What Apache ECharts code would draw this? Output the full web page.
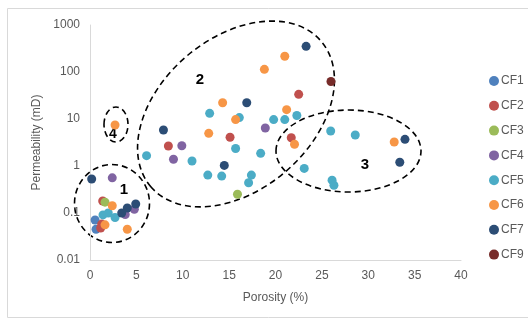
<!DOCTYPE html>
<html>
<head>
<meta charset="utf-8">
<script src="https://cdn.jsdelivr.net/npm/echarts@6/dist/echarts.min.js"></script>
<style>html,body{margin:0;padding:0;background:#fff}#c{width:528px;height:320px}</style>
</head>
<body>
<div id="c"></div>
<script>
// Series names
const seriesNames = ['CF1','CF2','CF3','CF4','CF5','CF6','CF7','CF9'];
// [porosity %, permeability mD]
const cf1 = [[0.55,0.071],[0.65,0.045]];
const cf2 = [[1.37,0.18],[1.26,0.058],[1.15,0.048],[8.45,2.67],[15.1,4.08],[21.7,4.0],[22.5,33.5]];
const cf3 = [[1.62,0.17],[15.9,0.25]];
const cf4 = [[2.4,0.56],[4.78,0.12],[3.8,0.093],[9.9,2.7],[9.0,1.39],[18.9,6.43]];
const cf5 = [[1.4,0.091],[1.97,0.1],[2.7,0.08],[6.1,1.66],[11.0,1.28],[12.9,13.2],[16.1,10.7],[19.8,9.7],[21.0,9.7],[22.3,11.9],[15.7,2.36],[18.4,1.86],[12.7,0.64],[14.2,0.61],[17.4,0.64],[17.1,0.44],[23.1,0.89],[25.95,5.55],[28.6,4.57],[26.1,0.5],[26.3,0.39]];
const cf6 = [[2.7,7.45],[2.4,0.143],[1.62,0.056],[4.02,0.045],[12.8,4.96],[14.3,22.2],[15.7,9.7],[18.8,114],[21.0,216],[21.2,15.8],[22.05,2.9],[32.8,3.24]];
const cf7 = [[0.18,0.53],[4.93,0.155],[4.02,0.128],[3.42,0.1],[7.92,5.84],[14.48,1.03],[16.9,22.2],[23.3,352],[33.96,3.69],[33.4,1.2]];
const cf9 = [[25.98,62.7]];
const seriesData = [cf1,cf2,cf3,cf4,cf5,cf6,cf7,cf9];
const colors = ['#4F81BD','#C0504D','#9BBB59','#8064A2','#4BACC6','#F79646','#2C4D75','#772C2A'];
const xTicks = [0,5,10,15,20,25,30,35,40];
const yTickLabels = ['0.01','0.1','1','10','100','1000'];
const clusterLabels = ['1','2','3','4'];

const chart = echarts.init(document.getElementById('c'), null, {renderer:'canvas'});
const font = 'Liberation Sans, Arial, sans-serif';
const dash = {stroke:'#000', lineWidth:1.6, lineDash:[6,4], fill:'none'};

chart.setOption({
  animation:false,
  color: colors,
  grid:{left:90, top:25, right:67, bottom:60, containLabel:false},
  xAxis:{
    type:'value', min:xTicks[0], max:xTicks[xTicks.length-1], interval:5,
    name:'Porosity (%)', nameLocation:'middle', nameGap:32,
    nameTextStyle:{color:'#595959', fontSize:12, fontFamily:font},
    axisLine:{show:true, lineStyle:{color:'#D9D9D9'}},
    axisTick:{show:false}, splitLine:{show:false},
    axisLabel:{color:'#595959', fontSize:12, fontFamily:font, margin:10}
  },
  yAxis:{
    type:'log', logBase:10, min:0.01, max:1000,
    name:'Permeability (mD)', nameLocation:'middle', nameGap:46, nameRotate:90,
    nameTextStyle:{color:'#595959', fontSize:12, fontFamily:font},
    axisLine:{show:true, lineStyle:{color:'#D9D9D9'}},
    axisTick:{show:false}, splitLine:{show:false},
    axisLabel:{color:'#595959', fontSize:12, fontFamily:font, margin:10,
      formatter:function(v){ const i = Math.round(Math.log10(v))+2; return yTickLabels[i] !== undefined ? yTickLabels[i] : ''; }}
  },
  legend:{
    orient:'vertical', left:484, top:70, itemGap:12.8, itemWidth:10, itemHeight:10,
    icon:'circle', data:seriesNames,
    textStyle:{color:'#595959', fontSize:12, fontFamily:font, padding:[0,0,0,-3]}
  },
  series: seriesNames.map((n,i)=>({
    name:n, type:'scatter', data:seriesData[i], symbolSize:9,
    itemStyle:{color:colors[i], opacity:1}
  })),
  graphic:[
    {type:'rect', shape:{x:7.5,y:8.5,width:530,height:309}, style:{stroke:'#D9D9D9', fill:'none', lineWidth:1}, silent:true},
    {type:'ellipse', shape:{cx:112, cy:203.5, rx:37.5, ry:39}, style:dash, silent:true},
    {type:'ellipse', x:236, y:114, rotation:40.5*Math.PI/180, shape:{cx:0, cy:0, rx:112, ry:76}, style:dash, silent:true},
    {type:'ellipse', shape:{cx:348.5, cy:151, rx:72.5, ry:41}, style:dash, silent:true},
    {type:'ellipse', shape:{cx:116, cy:124.5, rx:12, ry:17.5}, style:dash, silent:true},
    {type:'text', x:124, y:190, style:{text:clusterLabels[0], font:'bold 15px '+font, fill:'#000', textAlign:'center', textVerticalAlign:'middle'}},
    {type:'text', x:200, y:80, style:{text:clusterLabels[1], font:'bold 15px '+font, fill:'#000', textAlign:'center', textVerticalAlign:'middle'}},
    {type:'text', x:365, y:165, style:{text:clusterLabels[2], font:'bold 15px '+font, fill:'#000', textAlign:'center', textVerticalAlign:'middle'}},
    {type:'text', x:113, y:134, style:{text:clusterLabels[3], font:'bold 14px '+font, fill:'#000', textAlign:'center', textVerticalAlign:'middle'}}
  ]
});
</script>
</body>
</html>
